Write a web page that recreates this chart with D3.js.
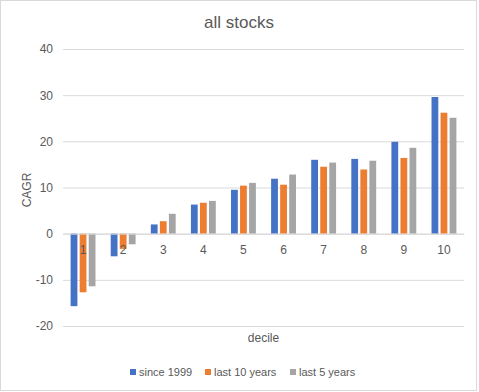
<!DOCTYPE html>
<html>
<head>
<meta charset="utf-8">
<script src="https://cdn.jsdelivr.net/npm/d3@7"></script>
<style>
    body { margin: 0; background: #fff; }
    text { font-family: "Liberation Sans", Arial, sans-serif; fill: #595959; }
</style>
</head>
<body>
<div class="canvas"></div>
<script>
//Data
const deciles = ['1', '2', '3', '4', '5', '6', '7', '8', '9', '10'];
const seriesNames = ['since 1999', 'last 10 years', 'last 5 years'];
const since1999 = [-15.7, -4.9, 2.0, 6.3, 9.5, 11.9, 16.0, 16.2, 19.9, 29.6];
const last10 = [-12.7, -3.3, 2.7, 6.7, 10.4, 10.6, 14.5, 13.9, 16.4, 26.2];
const last5 = [-11.4, -2.3, 4.3, 7.1, 11.0, 12.8, 15.4, 15.8, 18.6, 25.1];
const yTicks = [-20, -10, 0, 10, 20, 30, 40];

const colors = ['#4472C4', '#ED7D31', '#A5A5A5'];
const values = [since1999, last10, last5];

//SVG Parameters
const width = 479, height = 392;
const plotL = 63, plotR = 464, plotT = 49, plotB = 326;

const svg = d3.select('.canvas')
    .append('svg')
    .attr('width', width)
    .attr('height', height);

//chart border
svg.append('rect')
    .attr('x', 0.5).attr('y', 0.5)
    .attr('width', width - 3).attr('height', height - 2)
    .attr('fill', '#fff')
    .attr('stroke', '#d9d9d9');

const xScale = d3.scaleBand()
    .domain(deciles)
    .range([plotL, plotR]);

const step = xScale.bandwidth();
const xInner = d3.scaleBand()
    .domain(seriesNames)
    .range([step * 0.19, step * 0.81])
    .paddingInner(0.25);

const yScale = d3.scaleLinear()
    .domain([-20, 40])
    .range([plotB, plotT]);

//Gridlines + y labels (plain hyphen for negatives, like the original)
const yAxis = d3.axisLeft(yScale)
    .tickValues(yTicks)
    .tickFormat(d => String(d))
    .tickSize(-(plotR - plotL))
    .tickPadding(10);
svg.append('g')
    .attr('transform', `translate(${plotL}, 0)`)
    .call(yAxis)
    .call(g => g.select('.domain').remove())
    .call(g => g.selectAll('line').attr('stroke', '#d9d9d9'))
    .call(g => g.selectAll('text')
        .attr('fill', '#595959')
        .attr('font-size', 12));

//Bars
seriesNames.forEach((name, si) => {
    svg.append('g')
        .selectAll('rect')
        .data(deciles)
        .enter()
        .append('rect')
        .attr('x', (d) => xScale(d) + xInner(name))
        .attr('width', xInner.bandwidth())
        .attr('y', (d, i) => yScale(Math.max(0, values[si][i])))
        .attr('height', (d, i) => Math.abs(yScale(values[si][i]) - yScale(0)))
        .attr('fill', colors[si]);
});

//Category labels (next to zero line)
const xAxis = d3.axisBottom(xScale).tickSize(0).tickPadding(12);
svg.append('g')
    .attr('transform', `translate(0, ${yScale(0)})`)
    .call(xAxis)
    .call(g => g.select('.domain').attr('stroke', '#d9d9d9'))
    .call(g => g.selectAll('text')
        .attr('fill', '#595959')
        .attr('font-size', 12));

//Title
svg.append('text')
    .attr('x', 239)
    .attr('y', 28)
    .attr('text-anchor', 'middle')
    .attr('font-size', 17)
    .text('all stocks');

//Axis titles
svg.append('text')
    .attr('x', (plotL + plotR) / 2)
    .attr('y', 342)
    .attr('text-anchor', 'middle')
    .attr('font-size', 12)
    .text('decile');

svg.append('text')
    .attr('transform', 'translate(31, 190) rotate(-90)')
    .attr('text-anchor', 'middle')
    .attr('font-size', 12)
    .text('CAGR');

//Legend
const legendX = [130, 205, 290];
const legend = svg.append('g');
seriesNames.forEach((name, i) => {
    legend.append('rect')
        .attr('x', legendX[i])
        .attr('y', 369)
        .attr('width', 6)
        .attr('height', 6)
        .attr('fill', colors[i]);
    legend.append('text')
        .attr('x', legendX[i] + 9)
        .attr('y', 376)
        .attr('font-size', 11)
        .text(name);
});
</script>
</body>
</html>
